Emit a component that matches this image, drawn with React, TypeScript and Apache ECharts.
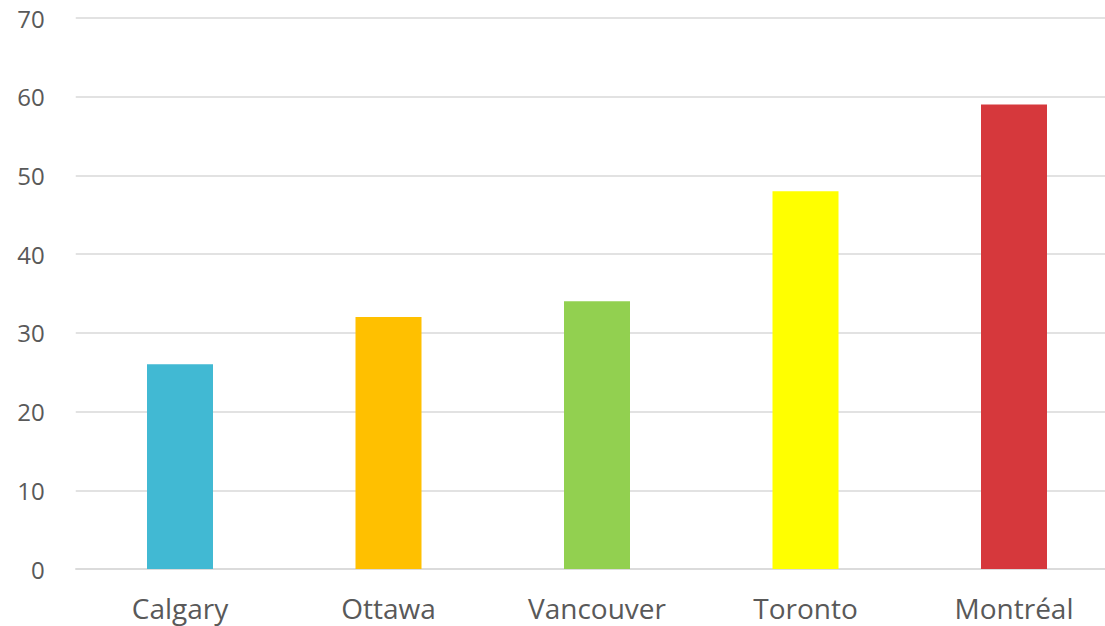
import React, { useEffect, useRef } from "react";
import * as echarts from "echarts";

const categories = ["Calgary", "Ottawa", "Vancouver", "Toronto", "Montréal"];
const values = [26, 32, 34, 48, 59];
const barColors = ["#41B9D3", "#FFC000", "#92D050", "#FFFF00", "#D6383C"];
const yMin = 0;
const yMax = 70;
const yInterval = 10;

export default function App() {
  const ref = useRef<HTMLDivElement>(null);
  useEffect(() => {
    if (!ref.current) return;
    const chart = echarts.init(ref.current, null, { renderer: "svg" });
    chart.setOption({
      animation: false,
      grid: { left: 75.75, right: 11.75, top: 18, bottom: 57, containLabel: false },
      xAxis: {
        type: "category",
        data: categories,
        axisTick: { show: false },
        axisLine: { show: true, lineStyle: { color: "#D9D9D9", width: 1.5 } },
        axisLabel: {
          color: "#595959",
          fontSize: 28,
          fontFamily: "Open Sans",
          margin: 25,
        },
      },
      yAxis: {
        type: "value",
        min: yMin,
        max: yMax,
        interval: yInterval,
        axisLine: { show: false },
        axisTick: { show: false },
        splitLine: { lineStyle: { color: "#D9D9D9", width: 1.5 } },
        axisLabel: {
          color: "#595959",
          fontSize: 24,
          fontFamily: "Open Sans",
          margin: 31,
        },
      },
      series: [
        {
          type: "bar",
          data: values.map((v, i) => ({ value: v, itemStyle: { color: barColors[i] } })),
          barWidth: 66,
        },
      ],
    });
    return () => chart.dispose();
  }, []);
  return (
    <div style={{ position: "fixed", left: 0, top: 0, width: 1105, height: 626, overflow: "hidden", background: "#fff" }}>
      <div ref={ref} style={{ width: 1130, height: 626 }} />
    </div>
  );
}
